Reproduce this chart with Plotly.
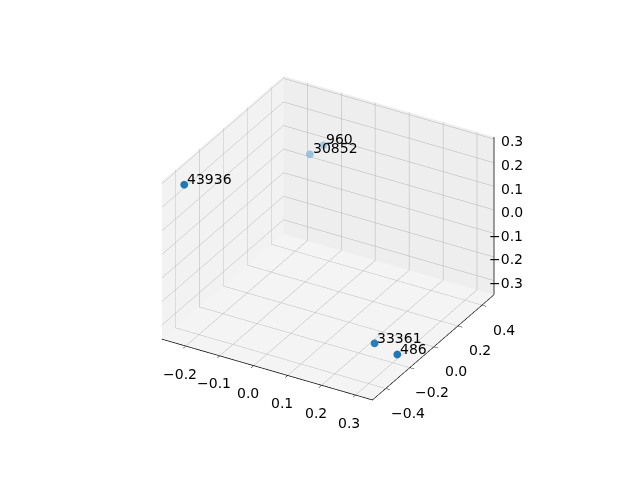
import plotly.graph_objects as go

labels = ["43936", "30852", "960", "33361", "486"]
xs = [-0.233, -0.175, -0.135, 0.230, 0.319]
ys = [-0.43, 0.45, 0.45, -0.155, -0.217]
zs = [0.276, 0.04, 0.095, -0.326, -0.309]
alphas = [1.0, 0.45, 0.4, 0.95, 1.0]

x_ticks = [-0.2, -0.1, 0.0, 0.1, 0.2, 0.3]
y_ticks = [-0.4, -0.2, 0.0, 0.2, 0.4]
z_ticks = [-0.3, -0.2, -0.1, 0.0, 0.1, 0.2, 0.3]

x_range = [-0.27, 0.35]
y_range = [-0.51, 0.50]
z_range = [-0.36, 0.31]


def fmt(v):
    s = f"{abs(v):.1f}"
    return ("\u2212" + s) if v < 0 else s


def blend(a):
    base = (31, 119, 180)
    c = [round(255 - (255 - b) * a) for b in base]
    return f"rgb({c[0]},{c[1]},{c[2]})"


FONT = dict(family="DejaVu Sans", size=14, color="black")

fig = go.Figure()
fig.add_trace(go.Scatter3d(
    x=xs, y=ys, z=zs, mode="markers",
    marker=dict(size=4.5, color=[blend(a) for a in alphas], line=dict(width=0), opacity=1),
    showlegend=False, hoverinfo="skip",
))
# right-hand z axis spine
fig.add_trace(go.Scatter3d(
    x=[x_range[1], x_range[1]], y=[y_range[1], y_range[1]], z=z_range,
    mode="lines", line=dict(color="black", width=1.5),
    showlegend=False, hoverinfo="skip",
))

annotations = []
for lab, x, y, z in zip(labels, xs, ys, zs):
    annotations.append(dict(x=x, y=y, z=z, text=lab, showarrow=False,
                            xanchor="left", yanchor="bottom", xshift=1, yshift=-4,
                            font=FONT))
for t in x_ticks:
    annotations.append(dict(x=t, y=y_range[0], z=z_range[0], text=fmt(t), showarrow=False,
                            xanchor="center", yanchor="middle", xshift=-6, yshift=-27,
                            font=FONT))
for t in y_ticks:
    annotations.append(dict(x=x_range[1], y=t, z=z_range[0], text=fmt(t), showarrow=False,
                            xanchor="center", yanchor="middle", xshift=22, yshift=-24,
                            font=FONT))
for t in z_ticks:
    annotations.append(dict(x=x_range[1], y=y_range[1], z=t, text=fmt(t), showarrow=False,
                            xanchor="right", yanchor="middle", xshift=31, yshift=-2,
                            font=FONT))


def ax(ticks, rng, bg, line=True):
    return dict(
        range=rng, tickvals=ticks, showticklabels=False,
        showbackground=True, backgroundcolor=bg,
        gridcolor="#b4b4b4", gridwidth=1, zeroline=False,
        showline=line, linecolor="black", linewidth=1.5,
        ticks="outside" if line else "", ticklen=5, tickcolor="black",
        title=dict(text=""), showspikes=False, autorange=False,
    )


fig.update_layout(
    width=640, height=480,
    paper_bgcolor="white",
    margin=dict(l=0, r=0, t=0, b=0),
    scene=dict(
        domain=dict(x=[0.18, 0.82], y=[0.13, 0.91]),
        xaxis=ax(x_ticks, x_range, "rgb(242,242,242)"),
        yaxis=ax(y_ticks, y_range, "rgb(238,238,238)"),
        zaxis=ax(z_ticks, z_range, "rgb(244,244,244)", line=False),
        aspectmode="manual",
        aspectratio=dict(x=1.3, y=1.3, z=0.975),
        annotations=annotations,
        camera=dict(
            eye=dict(x=0.433 * 1.6, y=-0.75 * 1.6, z=0.5 * 1.6),
            center=dict(x=0, y=0, z=0),
            up=dict(x=0, y=0, z=1),
            projection=dict(type="orthographic"),
        ),
    ),
)

fig.write_html("out.html")
